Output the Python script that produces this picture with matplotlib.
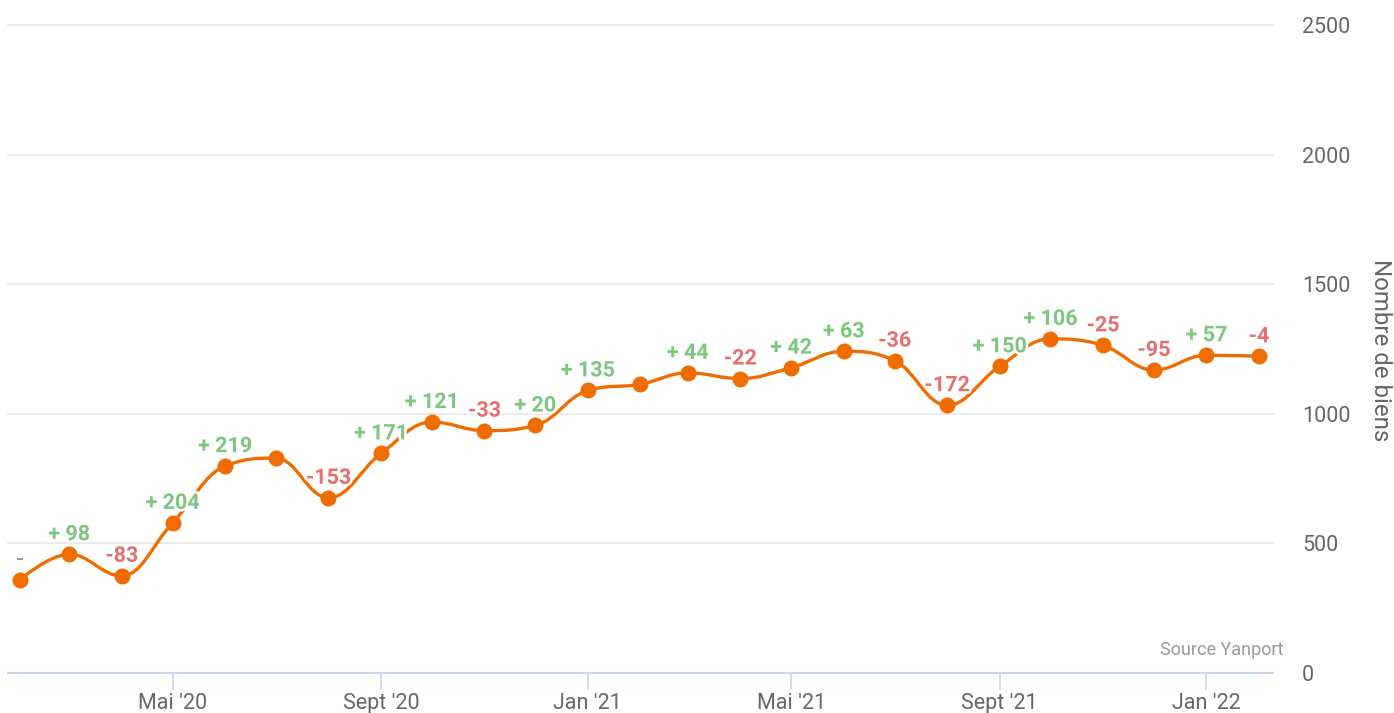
import datetime as dt
import matplotlib
matplotlib.use('Agg')
import matplotlib.pyplot as plt
import matplotlib.patheffects as pe
import matplotlib.dates as mdates
from matplotlib.path import Path
from matplotlib.patches import PathPatch

plt.rcParams['font.family'] = ['Roboto', 'DejaVu Sans']

# un point par mois, de fév. 2020 à fév. 2022
mois = [dt.date(2020 + (m + 1) // 12, (m + 1) % 12 + 1, 1) for m in range(25)]
biens = [360, 458, 375, 579, 798, 829, 676, 847, 968, 935, 955, 1090, 1114, 1158, 1136,
         1178, 1241, 1205, 1033, 1183, 1289, 1264, 1169, 1226, 1222]
variation = ['-', '+ 98', '-83', '+ 204', '+ 219', '', '-153', '+ 171', '+ 121', '-33', '+ 20',
             '+ 135', '', '+ 44', '-22', '+ 42', '+ 63', '-36', '-172', '+ 150', '+ 106',
             '-25', '-95', '+ 57', '-4']
ticks_x = [dt.date(2020, 5, 1), dt.date(2020, 9, 1), dt.date(2021, 1, 1),
           dt.date(2021, 5, 1), dt.date(2021, 9, 1), dt.date(2022, 1, 1)]
ticks_lab = ["Mai '20", "Sept '20", "Jan '21", "Mai '21", "Sept '21", "Jan '22"]

ORANGE = '#ef6c00'
VERT = '#7cc67e'
ROUGE = '#e36f6f'
GRIS = '#999999'


def spline_path(xs, ys, smoothing=1.5):
    # courbe lissée à la manière de highcharts
    n = len(xs)
    lc = [None] * n
    rc = [None] * n
    for i in range(1, n - 1):
        px, py = xs[i], ys[i]
        lx, ly = xs[i - 1], ys[i - 1]
        nx, ny = xs[i + 1], ys[i + 1]
        d = smoothing + 1
        lcx = (smoothing * px + lx) / d
        lcy = (smoothing * py + ly) / d
        rcx = (smoothing * px + nx) / d
        rcy = (smoothing * py + ny) / d
        corr = (rcy - lcy) * (rcx - px) / (rcx - lcx) + py - rcy
        lcy += corr
        rcy += corr
        if lcy > ly and lcy > py:
            lcy = max(ly, py)
            rcy = 2 * py - lcy
        elif lcy < ly and lcy < py:
            lcy = min(ly, py)
            rcy = 2 * py - lcy
        if rcy > ny and rcy > py:
            rcy = max(ny, py)
            lcy = 2 * py - rcy
        elif rcy < ny and rcy < py:
            rcy = min(ny, py)
            lcy = 2 * py - rcy
        lc[i] = (lcx, lcy)
        rc[i] = (rcx, rcy)
    verts = [(xs[0], ys[0])]
    codes = [Path.MOVETO]
    for i in range(1, n):
        c1 = rc[i - 1] if rc[i - 1] is not None else (xs[i - 1], ys[i - 1])
        c2 = lc[i] if lc[i] is not None else (xs[i], ys[i])
        verts += [c1, c2, (xs[i], ys[i])]
        codes += [Path.CURVE4] * 3
    return Path(verts, codes)


fig = plt.figure(figsize=(13.94, 7.13), dpi=100)
ax = fig.add_axes([8 / 1394, 40 / 713, 1265 / 1394, 648 / 713])

x = list(mdates.date2num(mois))
ax.add_patch(PathPatch(spline_path(x, biens), fill=False, edgecolor=ORANGE, lw=2.4,
                       zorder=3, capstyle='round'))
ax.plot(x, biens, 'o', color=ORANGE, markersize=11.5, markeredgewidth=0, zorder=4)

# étiquettes de variation
for xi, yi, lab in zip(x, biens, variation):
    if lab == '':
        continue
    if lab == '-':
        col = GRIS
    elif lab.startswith('+'):
        col = VERT
    else:
        col = ROUGE
    ax.annotate(lab, (xi, yi), xytext=(0, 14), textcoords='offset pixels',
                ha='center', va='baseline', fontsize=15.5, fontweight='bold', color=col,
                zorder=5, path_effects=[pe.withStroke(linewidth=3.5, foreground='white')])

ax.set_xlim(x[0] - 7.1, x[-1] + 8.3)
ax.set_ylim(0, 2500)
ax.set_yticks([0, 500, 1000, 1500, 2000, 2500])
ax.yaxis.tick_right()
ax.tick_params(axis='y', length=0, pad=21, labelsize=15.5, labelcolor='#666666')
ax.set_xticks(mdates.date2num(ticks_x))
ax.set_xticklabels(ticks_lab)
ax.tick_params(axis='x', length=12.5, width=1.2, color='#ccd6eb', pad=2, labelsize=15.5,
               labelcolor='#666666')
ax.grid(axis='y', color='#e6e6e6', lw=1.2, clip_on=False)
for s in ['top', 'left', 'right']:
    ax.spines[s].set_visible(False)
ax.spines['bottom'].set_color('#ccd6eb')
ax.spines['bottom'].set_linewidth(1.5)

fig.text(1381 / 1394, 1 - 350 / 713, 'Nombre de biens', rotation=270, ha='center',
         va='center', fontsize=17.3, color='#666666')
fig.text(1283 / 1394, 1 - 655 / 713, 'Source Yanport', ha='right', va='baseline',
         fontsize=13, color='#999999')

plt.savefig('out.png', dpi=100)
